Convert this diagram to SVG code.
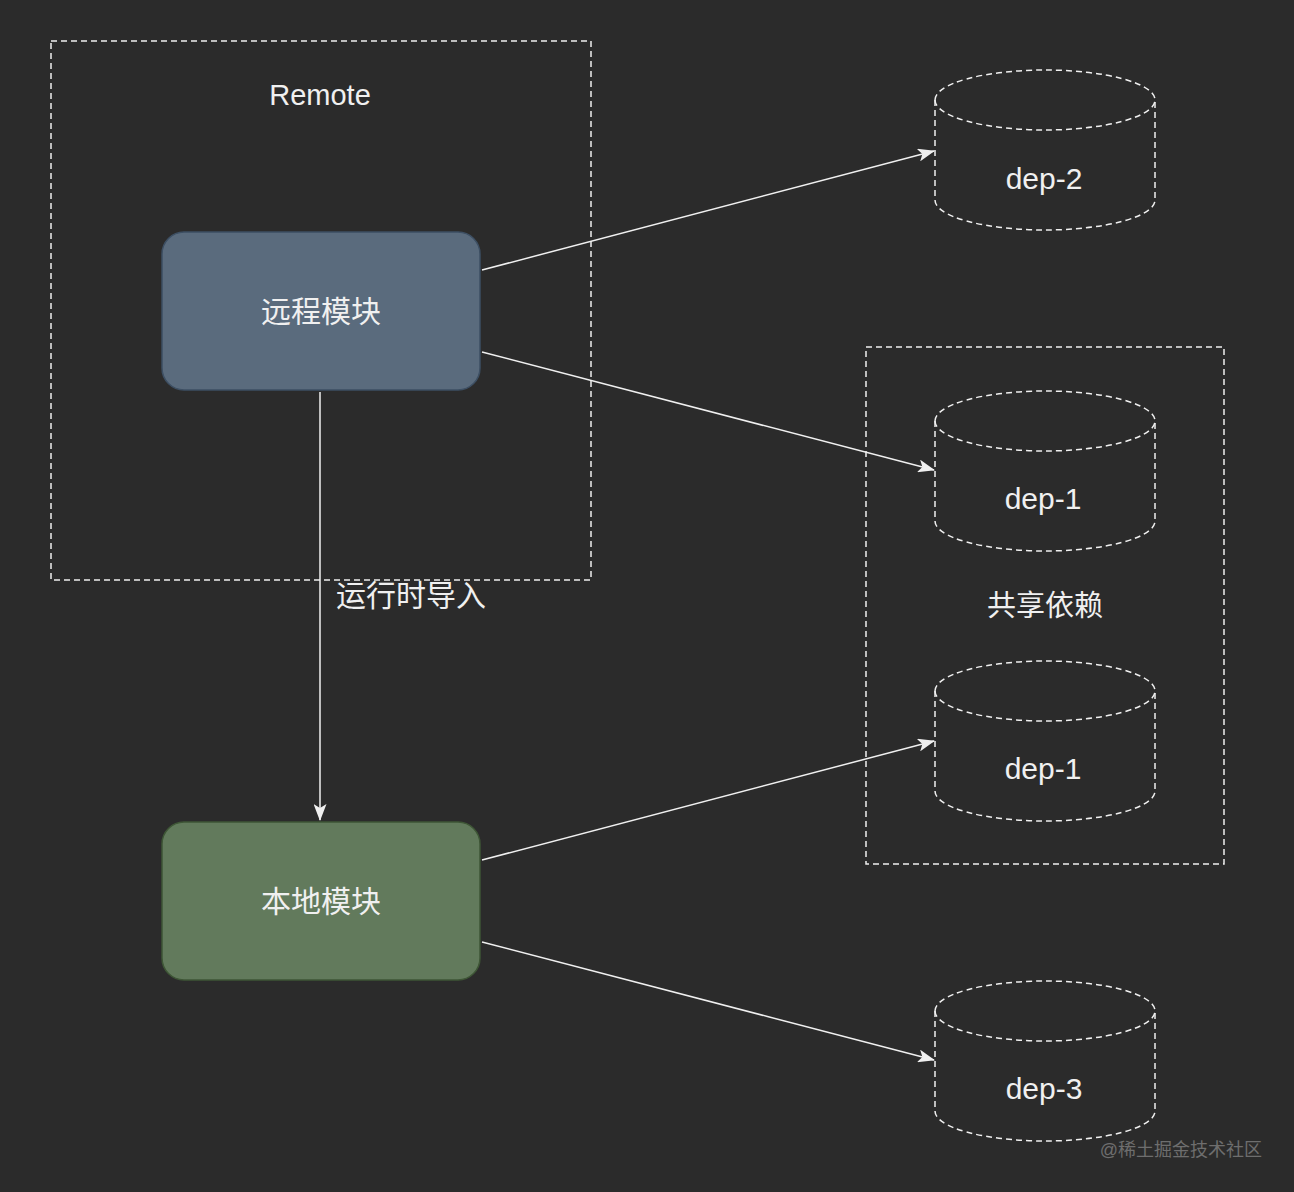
<svg xmlns="http://www.w3.org/2000/svg" width="1294" height="1192" viewBox="0 0 1294 1192">
<style>
.t{font-family:"Liberation Sans","Noto Sans CJK SC",sans-serif;fill:#f0f0f0;text-anchor:middle;dominant-baseline:central}
.dash{fill:none;stroke:#f0f0f0;stroke-width:1.5;stroke-dasharray:6 4}
.cyl{fill:#2b2b2b;stroke:#f0f0f0;stroke-width:1.5;stroke-dasharray:6 4}
.edge{fill:none;stroke:#f0f0f0;stroke-width:1.5}
</style>
<defs>
<marker id="ah" viewBox="0 0 17 13" refX="16" refY="6.5" markerWidth="17" markerHeight="13" markerUnits="userSpaceOnUse" orient="auto">
<path d="M0,0 L17,6.5 L0,13 L4,6.5 Z" fill="#f0f0f0"/>
</marker>
<symbol id="cylsym" overflow="visible">
<path class="cyl" d="M0,30 A110,30 0 0 1 220,30 L220,130 A110,30 0 0 1 0,130 Z"/>
<path class="dash" d="M0,30 A110,30 0 0 0 220,30"/>
</symbol>
</defs>
<rect width="1294" height="1192" fill="#2b2b2b"/>
<g id="remote-group">
<rect class="dash" x="51" y="41" width="540" height="539"/>
<text class="t" x="320" y="95" font-size="29">Remote</text>
</g>
<g id="shared-group">
<rect class="dash" x="866" y="347" width="358" height="517"/>
<text class="t" x="1045" y="606" font-size="29">共享依赖</text>
</g>
<g id="connectors">
<line class="edge" x1="482" y1="270" x2="934" y2="151" marker-end="url(#ah)"/>
<line class="edge" x1="482" y1="352" x2="934" y2="470" marker-end="url(#ah)"/>
<line class="edge" x1="482" y1="860" x2="934" y2="741" marker-end="url(#ah)"/>
<line class="edge" x1="482" y1="942" x2="934" y2="1060" marker-end="url(#ah)"/>
<line class="edge" x1="320" y1="392" x2="320" y2="820" marker-end="url(#ah)"/>
<rect x="335" y="581" width="152" height="31" fill="#2b2b2b"/>
<text class="t" x="411" y="595" font-size="30">运行时导入</text>
</g>
<g id="remote-module">
<rect x="162" y="232" width="318" height="158" rx="22" fill="#5a6b7d" stroke="#3d4f63" stroke-width="1.5"/>
<text class="t" x="321" y="311" font-size="30">远程模块</text>
</g>
<g id="local-module">
<rect x="162" y="822" width="318" height="158" rx="22" fill="#627a5c" stroke="#3e5636" stroke-width="1.5"/>
<text class="t" x="321" y="901" font-size="30">本地模块</text>
</g>
<g id="dep-2">
<use href="#cylsym" x="935" y="70"/>
<text class="t" x="1044" y="178" font-size="30">dep-2</text>
</g>
<g id="dep-1-a">
<use href="#cylsym" x="935" y="391"/>
<text class="t" x="1043" y="498" font-size="30">dep-1</text>
</g>
<g id="dep-1-b">
<use href="#cylsym" x="935" y="661"/>
<text class="t" x="1043" y="768" font-size="30">dep-1</text>
</g>
<g id="dep-3">
<use href="#cylsym" x="935" y="981"/>
<text class="t" x="1044" y="1088" font-size="30">dep-3</text>
</g>
<text x="1262" y="1150" font-family="Liberation Sans,Noto Sans CJK SC,sans-serif" font-size="18" fill="#6e6e6e" text-anchor="end" dominant-baseline="central">@稀土掘金技术社区</text>
</svg>
